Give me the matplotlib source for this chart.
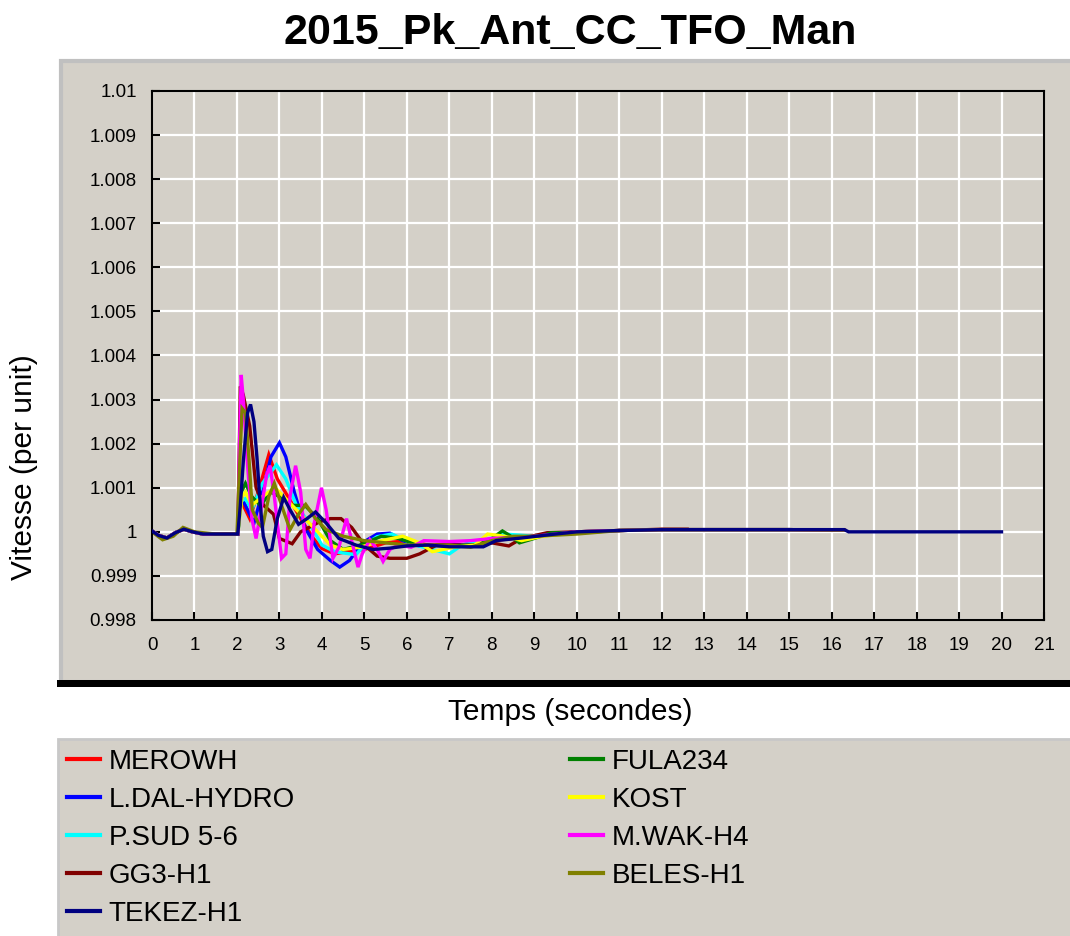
import matplotlib
matplotlib.use("Agg")
import matplotlib.pyplot as plt
from matplotlib.patches import Rectangle
from matplotlib.lines import Line2D

plt.rcParams["font.family"] = ["Liberation Sans", "DejaVu Sans"]

# ---- data (time in s, speed in per unit) ----
pre_t = [0.0, 0.15, 0.35, 0.55, 0.75, 0.95, 1.2, 1.6, 2.0]
pre_v = [1.00002, 0.99992, 0.99986, 0.99998, 1.00006, 1.0, 0.99995, 0.99995, 0.99995]

tail_t = [11.0, 12.0, 13.0, 14.0, 15.0, 16.0, 16.3]
tail_v = [1.00003, 1.00005, 1.00005, 1.00005, 1.00005, 1.00004, 1.00004]

merowh_t = [2.02, 2.08, 2.15, 2.3, 2.5, 2.75, 2.95, 3.2, 3.5, 3.8, 4.0, 4.3, 4.6, 5.0,
            5.5, 6.0, 6.5, 7.0, 7.5, 8.0, 8.5, 9.0, 9.5, 10.0]
merowh_v = [0.99995, 1.0007, 1.0006, 1.0003, 1.0009, 1.00175, 1.0012, 1.0008, 1.0003,
            0.99985, 0.99962, 0.9995, 0.99955, 0.9996, 0.99975, 0.9998, 0.9997, 0.9997,
            0.9997, 0.9998, 0.99985, 0.9999, 0.99995, 1.0]

ldal_t = [2.02, 2.1, 2.2, 2.4, 2.6, 2.8, 3.0, 3.15, 3.35, 3.6, 3.9, 4.2, 4.42, 4.65, 4.95,
          5.3, 5.6, 5.9, 6.3, 6.8, 7.3, 7.8, 8.3, 9.0, 10.0]
ldal_v = [0.99995, 1.0008, 1.0006, 1.0002, 1.0009, 1.0017, 1.00202, 1.0017, 1.0009, 1.0001,
          0.9996, 0.99935, 0.9992, 0.99935, 0.99975, 0.99995, 0.99997, 0.9998, 0.99968,
          0.9997, 0.9997, 0.9998, 0.99985, 0.9999, 1.0]

psud_t = [2.02, 2.1, 2.2, 2.35, 2.6, 2.93, 3.15, 3.4, 3.7, 4.0, 4.3, 4.8, 5.0, 5.3, 5.65,
          6.2, 6.6, 7.0, 7.3, 7.8, 8.3, 9.0, 10.0]
psud_v = [0.99995, 1.0007, 1.00075, 1.0005, 1.0011, 1.00152, 1.0012, 1.0006, 1.0002, 0.9997,
          0.99955, 0.99948, 0.9997, 0.99989, 0.99995, 0.9997, 0.9996, 0.9995, 0.9997,
          0.9998, 0.99995, 0.9999, 1.0]

gg3_t = [2.02, 2.08, 2.15, 2.3, 2.45, 2.63, 2.86, 3.0, 3.3, 3.5, 3.95, 4.2, 4.45, 4.7, 5.0,
         5.3, 5.6, 6.0, 6.3, 6.7, 7.5, 8.0, 8.4, 8.7, 9.3, 10.0, 11.0, 12.0, 12.6]
gg3_v = [0.99995, 1.0033, 1.0031, 1.0024, 1.001, 1.0006, 1.0004, 0.99985, 0.99973, 1.0,
         1.00023, 1.0003, 1.0003, 1.0001, 0.9997, 0.99945, 0.9994, 0.9994, 0.9995, 0.9997,
         0.9997, 0.99975, 0.99968, 0.99985, 0.99998, 1.0, 1.00003, 1.00006, 1.00006]

tekez_t = [2.02, 2.08, 2.15, 2.25, 2.32, 2.4, 2.47, 2.55, 2.62, 2.72, 2.82, 2.95, 3.1, 3.25,
           3.45, 3.65, 3.85, 4.1, 4.4, 4.8, 5.2, 5.6, 6.0, 6.5, 7.0, 7.8, 8.1, 8.7, 9.4,
           10.0, 11.0, 12.0, 14.0, 16.3, 16.4, 18.0, 20.0]
tekez_v = [0.99995, 1.0006, 1.0016, 1.0027, 1.00289, 1.0025, 1.0017, 1.0006, 0.9999,
           0.99955, 0.9996, 1.0003, 1.00078, 1.0005, 1.00017, 1.0003, 1.00045, 1.0002,
           0.99985, 0.9997, 0.9996, 0.99963, 0.99968, 0.9997, 0.99966, 0.99966, 0.9998,
           0.99986, 0.99994, 1.0, 1.00003, 1.00005, 1.00005, 1.00005, 1.0, 1.0, 1.0]

fula_t = [2.02, 2.1, 2.2, 2.35, 2.55, 2.8, 3.0, 3.3, 3.6, 3.9, 4.2, 4.5, 4.9, 5.4, 5.8, 6.3,
          7.0, 7.6, 8.0, 8.25, 8.45, 8.65, 9.0, 9.4, 10.0]
fula_v = [0.99995, 1.0009, 1.0011, 1.0008, 1.0006, 1.0009, 1.0008, 1.0006, 1.0006, 1.0003,
          0.9998, 0.9996, 0.9997, 0.9999, 0.99985, 0.9997, 0.99968, 0.9997, 0.99985,
          1.00002, 0.9999, 0.99975, 0.99985, 0.99998, 0.99998]

kost_t = [2.02, 2.12, 2.2, 2.35, 2.6, 2.9, 3.2, 3.5, 3.8, 4.2, 4.5, 4.9, 5.4, 5.9, 6.3, 6.6,
          7.1, 7.6, 7.9, 8.3, 8.7, 9.2, 9.7, 10.0]
kost_v = [0.99995, 1.0008, 1.0009, 1.0006, 1.0008, 1.001, 1.0007, 1.0004, 1.0001, 0.9997,
          0.9996, 0.99965, 0.9998, 0.9999, 0.99975, 0.99955, 0.99965, 0.9997, 0.99995,
          0.9999, 0.9998, 0.9999, 0.99995, 1.0]

mwak_t = [2.02, 2.06, 2.1, 2.15, 2.25, 2.35, 2.45, 2.55, 2.7, 2.78, 2.88, 3.05, 3.15, 3.25,
          3.38, 3.5, 3.62, 3.72, 3.82, 3.99, 4.1, 4.26, 4.4, 4.58, 4.7, 4.85, 4.95, 5.13,
          5.3, 5.44, 5.6, 5.8, 6.1, 6.4, 7.0, 7.5, 8.0, 9.0, 10.0]
mwak_v = [0.99995, 1.002, 1.00356, 1.003, 1.0015, 1.0003, 0.99985, 1.0004, 1.0013, 1.0015,
          1.0008, 0.9994, 0.9995, 1.0008, 1.0015, 1.0009, 0.9996, 0.9994, 1.0002, 1.001,
          1.0005, 0.9994, 0.99965, 1.0003, 0.9998, 0.9992, 0.9995, 0.99982, 0.9996,
          0.99933, 0.9996, 0.9997, 0.99965, 0.9998, 0.99978, 0.9998, 0.99985, 0.9999, 1.0]

beles_pre_t = [0.0, 0.25, 0.5, 0.73, 1.0, 1.5, 2.0]
beles_pre_v = [1.0, 0.99982, 0.9999, 1.0001, 1.0, 0.99995, 0.99995]
beles_t = [2.05, 2.12, 2.2, 2.28, 2.36, 2.5, 2.6, 2.75, 2.88, 3.05, 3.25, 3.45, 3.62, 3.85,
           4.1, 4.5, 5.0, 5.5, 6.0, 6.5, 7.0, 7.5, 8.0, 8.5, 9.0, 10.0]
beles_v = [1.0012, 1.0028, 1.0027, 1.0017, 1.0005, 1.0002, 1.0001, 1.0008, 1.0011, 1.0006,
           1.00005, 1.0004, 1.00062, 1.0003, 1.00005, 0.9999, 0.9998, 0.99975, 0.9997,
           0.9997, 0.9997, 0.99965, 0.9998, 0.9999, 0.9999, 0.99995]

labels = ["MEROWH", "L.DAL-HYDRO", "P.SUD 5-6", "GG3-H1", "TEKEZ-H1",
          "FULA234", "KOST", "M.WAK-H4", "BELES-H1"]
colors = ["#ff0000", "#0000ff", "#00ffff", "#800000", "#000080",
          "#008000", "#ffff00", "#ff00ff", "#808000"]

x_ticks = list(range(0, 22))
y_ticks = [0.998, 0.999, 1.0, 1.001, 1.002, 1.003, 1.004, 1.005, 1.006, 1.007, 1.008, 1.009, 1.01]
y_tick_labels = ["0.998", "0.999", "1", "1.001", "1.002", "1.003", "1.004", "1.005",
                 "1.006", "1.007", "1.008", "1.009", "1.01"]

series = {
    "MEROWH": (pre_t + merowh_t + tail_t, pre_v + merowh_v + tail_v),
    "L.DAL-HYDRO": (pre_t + ldal_t + tail_t, pre_v + ldal_v + tail_v),
    "P.SUD 5-6": (pre_t + psud_t + tail_t, pre_v + psud_v + tail_v),
    "GG3-H1": (pre_t + gg3_t, pre_v + gg3_v),
    "FULA234": (pre_t + fula_t + tail_t, pre_v + fula_v + tail_v),
    "KOST": (pre_t + kost_t + tail_t, pre_v + kost_v + tail_v),
    "M.WAK-H4": (pre_t + mwak_t + tail_t, pre_v + mwak_v + tail_v),
    "BELES-H1": (beles_pre_t + beles_t + tail_t, beles_pre_v + beles_v + tail_v),
    "TEKEZ-H1": (pre_t + tekez_t, pre_v + tekez_v),
}

W, H = 1070, 936
BG = "#d4d0c8"


def fx(px):
    return px / W


def fy(py):
    return 1 - py / H


fig = plt.figure(figsize=(W / 100, H / 100), dpi=100)
fig.patch.set_facecolor("white")

# grey chart panel, black bottom edge, grey legend panel
fig.add_artist(Rectangle((fx(61), fy(682)), 1.0, fy(61) - fy(682), transform=fig.transFigure,
                         facecolor=BG, edgecolor="#c0c0c0", lw=3, zorder=0))
fig.add_artist(Rectangle((fx(57), fy(687)), 1.0, 7 / H, transform=fig.transFigure,
                         facecolor="black", edgecolor="none", zorder=0))
fig.add_artist(Rectangle((fx(58), -0.01), 1.0, fy(739) + 0.01, transform=fig.transFigure,
                         facecolor=BG, edgecolor="#c8c8c8", lw=2, zorder=0))

ax = fig.add_axes([fx(152), fy(620), fx(1044) - fx(152), fy(91) - fy(620)])
ax.set_facecolor(BG)

handles = {}
for name, color in zip(labels, colors):
    t, v = series[name]
    z = 3 if name == "TEKEZ-H1" else 2
    (h,) = ax.plot(t, v, color=color, lw=2.4, zorder=z, solid_joinstyle="miter")
    handles[name] = h

ax.set_xlim(0, 21)
ax.set_ylim(0.998, 1.01)
ax.set_xticks(x_ticks)
ax.set_xticklabels([str(x) for x in x_ticks])
ax.set_yticks(y_ticks)
ax.set_yticklabels(y_tick_labels)
ax.tick_params(axis="both", direction="in", length=6, width=1.5, labelsize=13.5, colors="black")
ax.tick_params(axis="y", pad=11)
ax.tick_params(axis="x", pad=12)
ax.grid(True, color="white", lw=1.6)
ax.set_axisbelow(True)
for s in ax.spines.values():
    s.set_color("black")
    s.set_linewidth(1.5)

fig.text(fx(570), fy(33), "2015_Pk_Ant_CC_TFO_Man", ha="center", va="center",
         fontsize=31, fontweight="bold")
fig.text(fx(24), fy(467), "Vitesse (per unit)", ha="center", va="center", rotation=90,
         fontsize=21.5)
fig.text(fx(570), fy(712), "Temps (secondes)", ha="center", va="center", fontsize=21.5)

leg_kw = dict(loc="upper left", frameon=False, fontsize=20, handlelength=1.2,
              handletextpad=0.3, labelspacing=0.43, borderpad=0, borderaxespad=0)
col1 = labels[:5]
col2 = labels[5:]
fig.legend([Line2D([], [], color=handles[n].get_color(), lw=3) for n in col1], col1,
           bbox_to_anchor=(fx(67), fy(749)), **leg_kw)
fig.legend([Line2D([], [], color=handles[n].get_color(), lw=3) for n in col2], col2,
           bbox_to_anchor=(fx(570), fy(749)), **leg_kw)

fig.savefig("out.png", dpi=100)
